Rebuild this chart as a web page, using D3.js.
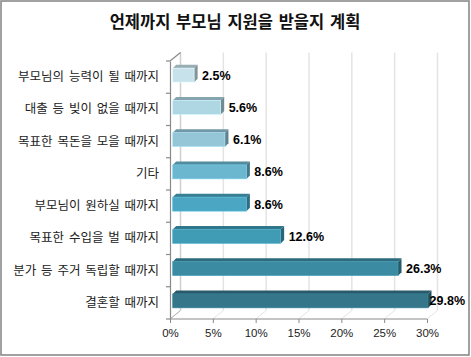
<!DOCTYPE html>
<html><head><meta charset="utf-8">
<script src="https://cdn.jsdelivr.net/npm/d3@7"></script>
<style>html,body{margin:0;padding:0;background:#fff;}</style>
</head><body>
<script>
const title = "언제까지 부모님 지원을 받을지 계획";
const categories = ["부모님의 능력이 될 때까지","대출 등 빚이 없을 때까지","목표한 목돈을 모을 때까지","기타","부모님이 원하실 때까지","목표한 수입을 벌 때까지","분가 등 주거 독립할 때까지","결혼할 때까지"];
const values = [2.5, 5.6, 6.1, 8.6, 8.6, 12.6, 26.3, 29.8];
const tickValues = [0, 5, 10, 15, 20, 25, 30];
const tickLabels = ["0%","5%","10%","15%","20%","25%","30%"];
const barColors = ["#c8e2ec","#aed6e3","#94c6d8","#6bb7cf","#4aa6c2","#409bb5","#3b8ca2","#35768a"];

const W = 471, H = 357;
const svg = d3.select("body").append("svg").attr("width", W).attr("height", H);

svg.append("rect").attr("x",1).attr("y",1).attr("width",468).attr("height",354)
  .attr("fill","#fff").attr("stroke","#8a8a8a").attr("stroke-width",1.6);

svg.append("text").attr("x",235).attr("y",27.5).attr("text-anchor","middle")
  .attr("font-family","'Noto Sans CJK KR'").attr("font-weight","bold").attr("font-size","16.5px")
  .attr("word-spacing","2px").attr("fill","#111").text(title);

const x = d3.scaleLinear().domain([0,30]).range([170,427]);
const y = d3.scaleBand().domain(categories).range([61,319]);
const DX = 10.5, DY = -8.5;
const top0 = 61, bot0 = 319;

const g = svg.append("g");
// back wall gridlines
tickValues.forEach(v => {
  g.append("line").attr("x1", x(v)+DX).attr("x2", x(v)+DX).attr("y1", top0+DY).attr("y2", bot0+DY)
    .attr("stroke", v===0 ? "#cfcfcf" : "#e4e4e4").attr("stroke-width", 1.5);
  g.append("line").attr("x1", x(v)).attr("x2", x(v)+DX).attr("y1", bot0).attr("y2", bot0+DY)
    .attr("stroke", "#e4e4e4").attr("stroke-width", 1);
});
// left wall edges
g.append("line").attr("x1",x(0)).attr("y1",top0).attr("x2",x(0)+DX).attr("y2",top0+DY).attr("stroke","#8a8a8a").attr("stroke-width",1.2);
g.append("line").attr("x1",x(0)).attr("y1",bot0).attr("x2",x(0)+DX).attr("y2",bot0+DY).attr("stroke","#b0b0b0").attr("stroke-width",1);

// bars
const bh = 14, bd = 3.5, shiftX = 2.7, shiftY = -2;
const bars = g.selectAll(".bar").data(values).enter().append("g");
bars.each(function(v,i){
  const s = d3.select(this);
  const x0 = x(0)+shiftX, x1 = x(v)+shiftX;
  const yc = y(categories[i]) + y.bandwidth()/2 + shiftY;
  const y0 = yc - bh/2, y1 = yc + bh/2;
  const c = d3.color(barColors[i]);
  s.append("polygon").attr("points", [[x0,y0],[x0+bd,y0-bd],[x1+bd,y0-bd],[x1,y0]].join(" "))
    .attr("fill", c.darker(0.75)).attr("stroke","none");
  s.append("polygon").attr("points", [[x1,y0],[x1+bd,y0-bd],[x1+bd,y1-bd],[x1,y1]].join(" "))
    .attr("fill", c.darker(1.2));
  s.append("rect").attr("x",x0).attr("y",y0).attr("width",x1-x0).attr("height",bh)
    .attr("fill", c).attr("stroke", d3.color(barColors[i]).brighter(0.4)).attr("stroke-width",0.6);
  const t = s.append("text").attr("y", yc).attr("dy","0.36em")
    .attr("font-family","'Liberation Sans', Arial, sans-serif").attr("font-weight","bold").attr("font-size","12.5px")
    .attr("fill","#000").text(v.toFixed(1)+"%");
  let lx = x1+bd+4.5;
  t.attr("x", lx);
  const w = t.node().getComputedTextLength();
  if (lx + w > 465) t.attr("x", 465 - w);
});

// left axis
const yAxis = d3.axisLeft(y).tickSize(0).tickPadding(11);
const ya = svg.append("g").attr("transform",`translate(${x(0)},0)`).call(yAxis);
ya.select(".domain").attr("stroke","#8a8a8a").attr("stroke-width",1.2);
ya.selectAll("text").attr("font-family","'Noto Sans CJK KR'").attr("font-size","12.5px")
  .attr("word-spacing","2px").attr("fill","#222");
// boundary ticks
d3.range(categories.length+1).forEach(i => {
  const yy = 61 + i*y.step();
  svg.append("line").attr("x1",x(0)-4).attr("x2",x(0)).attr("y1",yy).attr("y2",yy).attr("stroke","#8a8a8a").attr("stroke-width",1.2);
});

// bottom axis
const xAxis = d3.axisBottom(x).tickValues(tickValues).tickFormat((d,i)=>tickLabels[i]).tickSize(4).tickPadding(6);
const xa = svg.append("g").attr("transform",`translate(0,${bot0})`).call(xAxis);
xa.select(".domain").attr("stroke","#8a8a8a").attr("stroke-width",1.2).attr("d",`M${x(0)},0H${x(30)}`);
xa.selectAll("line").attr("stroke","#8a8a8a");
xa.selectAll("text").attr("font-family","'Liberation Sans', Arial, sans-serif").attr("font-size","11.5px").attr("fill","#222");
</script>
</body></html>
